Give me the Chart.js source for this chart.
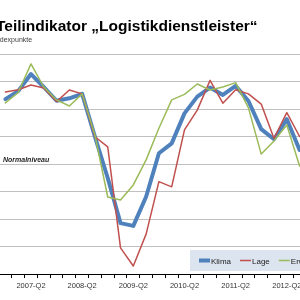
<!DOCTYPE html>
<html>
<head>
<meta charset="utf-8">
<script src="https://cdn.jsdelivr.net/npm/chart.js"></script>
<style>
  html, body { margin: 0; padding: 0; background: #fff; overflow: hidden; }
  #wrap { position: absolute; left: -40px; top: 0; width: 400px; height: 300px; }
</style>
</head>
<body>
<div id="wrap"><canvas id="logistik" width="400" height="300"></canvas></div>
<script>
var quarters = ["2006-Q4", "2007-Q1", "2007-Q2", "2007-Q3", "2007-Q4",
                "2008-Q1", "2008-Q2", "2008-Q3", "2008-Q4",
                "2009-Q1", "2009-Q2", "2009-Q3", "2009-Q4",
                "2010-Q1", "2010-Q2", "2010-Q3", "2010-Q4",
                "2011-Q1", "2011-Q2", "2011-Q3", "2011-Q4",
                "2012-Q1", "2012-Q2", "2012-Q3"];
var klima = [123.6, 126.5, 132.7, 128.0, 123.0, 123.9, 125.5, 109.9, 94.9,
             78.5, 77.5, 88.1, 103.9, 107.5, 118.4, 124.5, 127.8,
             125.1, 128.4, 122.9, 112.7, 109.0, 116.3, 105.1];
var lage = [126.2, 127.0, 128.7, 127.6, 122.7, 126.9, 125.5, 109.9, 106.2,
            69.5, 62.9, 74.5, 93.6, 91.7, 112.4, 119.6, 130.4,
            122.1, 127.0, 125.5, 121.8, 109.3, 118.7, 110.0];
var erwartungen = [122.2, 126.0, 136.4, 128.0, 123.3, 121.1, 125.5, 110.5, 88.0,
                   86.9, 92.4, 101.5, 113.0, 123.3, 125.3, 129.1, 126.9,
                   128.0, 129.6, 120.4, 103.6, 108.4, 114.2, 99.3];
var seriesNames = ["Klima", "Lage", "Erwartungen"];
var seriesColors = ["#4f81bd", "#c0504d", "#9bbb59"];
var yMin = 60, yMax = 140, yStep = 10;
var normalLevel = 100;

var titleText = "Teilindikator \u201ELogistikdienstleister\u201C";
var subtitleText = "Indexpunkte";

// title, Normalniveau label and the boxed legend inside the plot
var extras = {
  id: "extras",
  afterDraw: function(chart) {
    var ctx = chart.ctx;
    ctx.save();
    ctx.textBaseline = "alphabetic";
    ctx.textAlign = "left";
    ctx.fillStyle = "#000";
    ctx.font = "bold 15.5px 'Liberation Sans', Arial, sans-serif";
    ctx.fillText(titleText, 36, 31);
    ctx.fillStyle = "#404040";
    ctx.font = "7px 'Liberation Sans', Arial, sans-serif";
    ctx.fillText(subtitleText, 34, 42);

    var yNorm = chart.scales.y.getPixelForValue(normalLevel);
    ctx.fillStyle = "#222";
    ctx.font = "italic bold 7px 'Liberation Sans', Arial, sans-serif";
    ctx.fillText("Normalniveau", 43, yNorm - 2.5);

    // legend box
    ctx.fillStyle = "#dce4ef";
    ctx.fillRect(230, 250, 160, 21);
    var x = 239;
    ctx.font = "8px 'Liberation Sans', Arial, sans-serif";
    chart.data.datasets.slice().sort(function(a, b) { return a.legendPos - b.legendPos; }).forEach(function(ds) {
      ctx.strokeStyle = ds.borderColor;
      ctx.lineWidth = ds.borderWidth;
      ctx.beginPath();
      ctx.moveTo(x, 260.5);
      ctx.lineTo(x + 11, 260.5);
      ctx.stroke();
      ctx.fillStyle = "#222";
      ctx.fillText(ds.label, x + 12, 263.5);
      x += 12 + ctx.measureText(ds.label).width + 9;
    });
    ctx.restore();
  }
};

function createChart() {
  new Chart("logistik", {
    type: "line",
    data: {
      labels: quarters,
      datasets: [{
        label: seriesNames[0],
        data: klima,
        borderColor: seriesColors[0],
        borderWidth: 4,
        order: 2,
        legendPos: 0
      }, {
        label: seriesNames[1],
        data: lage,
        borderColor: seriesColors[1],
        borderWidth: 1.5,
        order: 1,
        legendPos: 1
      }, {
        label: seriesNames[2],
        data: erwartungen,
        borderColor: seriesColors[2],
        borderWidth: 1.5,
        order: 0,
        legendPos: 2
      }]
    },
    options: {
      responsive: false,
      animation: false,
      elements: {
        point: { radius: 0 },
        line: { tension: 0, borderJoinStyle: "round", borderCapStyle: "round", fill: false }
      },
      layout: { padding: { left: 39, right: 54, top: 54, bottom: 0 } },
      plugins: {
        legend: { display: false },
        tooltip: { enabled: false }
      },
      scales: {
        x: {
          offset: true,
          grid: { display: true, drawOnChartArea: false, drawTicks: true, tickLength: 4, color: "#000", offset: true },
          border: { display: true, color: "#000", width: 1 },
          ticks: {
            autoSkip: false,
            maxRotation: 0,
            padding: 3,
            color: "#333",
            font: { family: "'Liberation Sans', Arial, sans-serif", size: 7.5 },
            callback: function(v, i) {
              var l = quarters[i];
              return l.slice(-2) === "Q2" ? l : "";
            }
          },
          afterFit: function(s) { s.height = 26; }
        },
        y: {
          min: yMin,
          max: yMax,
          ticks: { display: false, stepSize: yStep },
          grid: { color: "#c0c0c0", lineWidth: 1, drawTicks: false },
          border: { display: false },
          afterFit: function(s) { s.width = 0; }
        }
      }
    },
    plugins: [extras]
  });
}

createChart();
</script>
</body>
</html>
